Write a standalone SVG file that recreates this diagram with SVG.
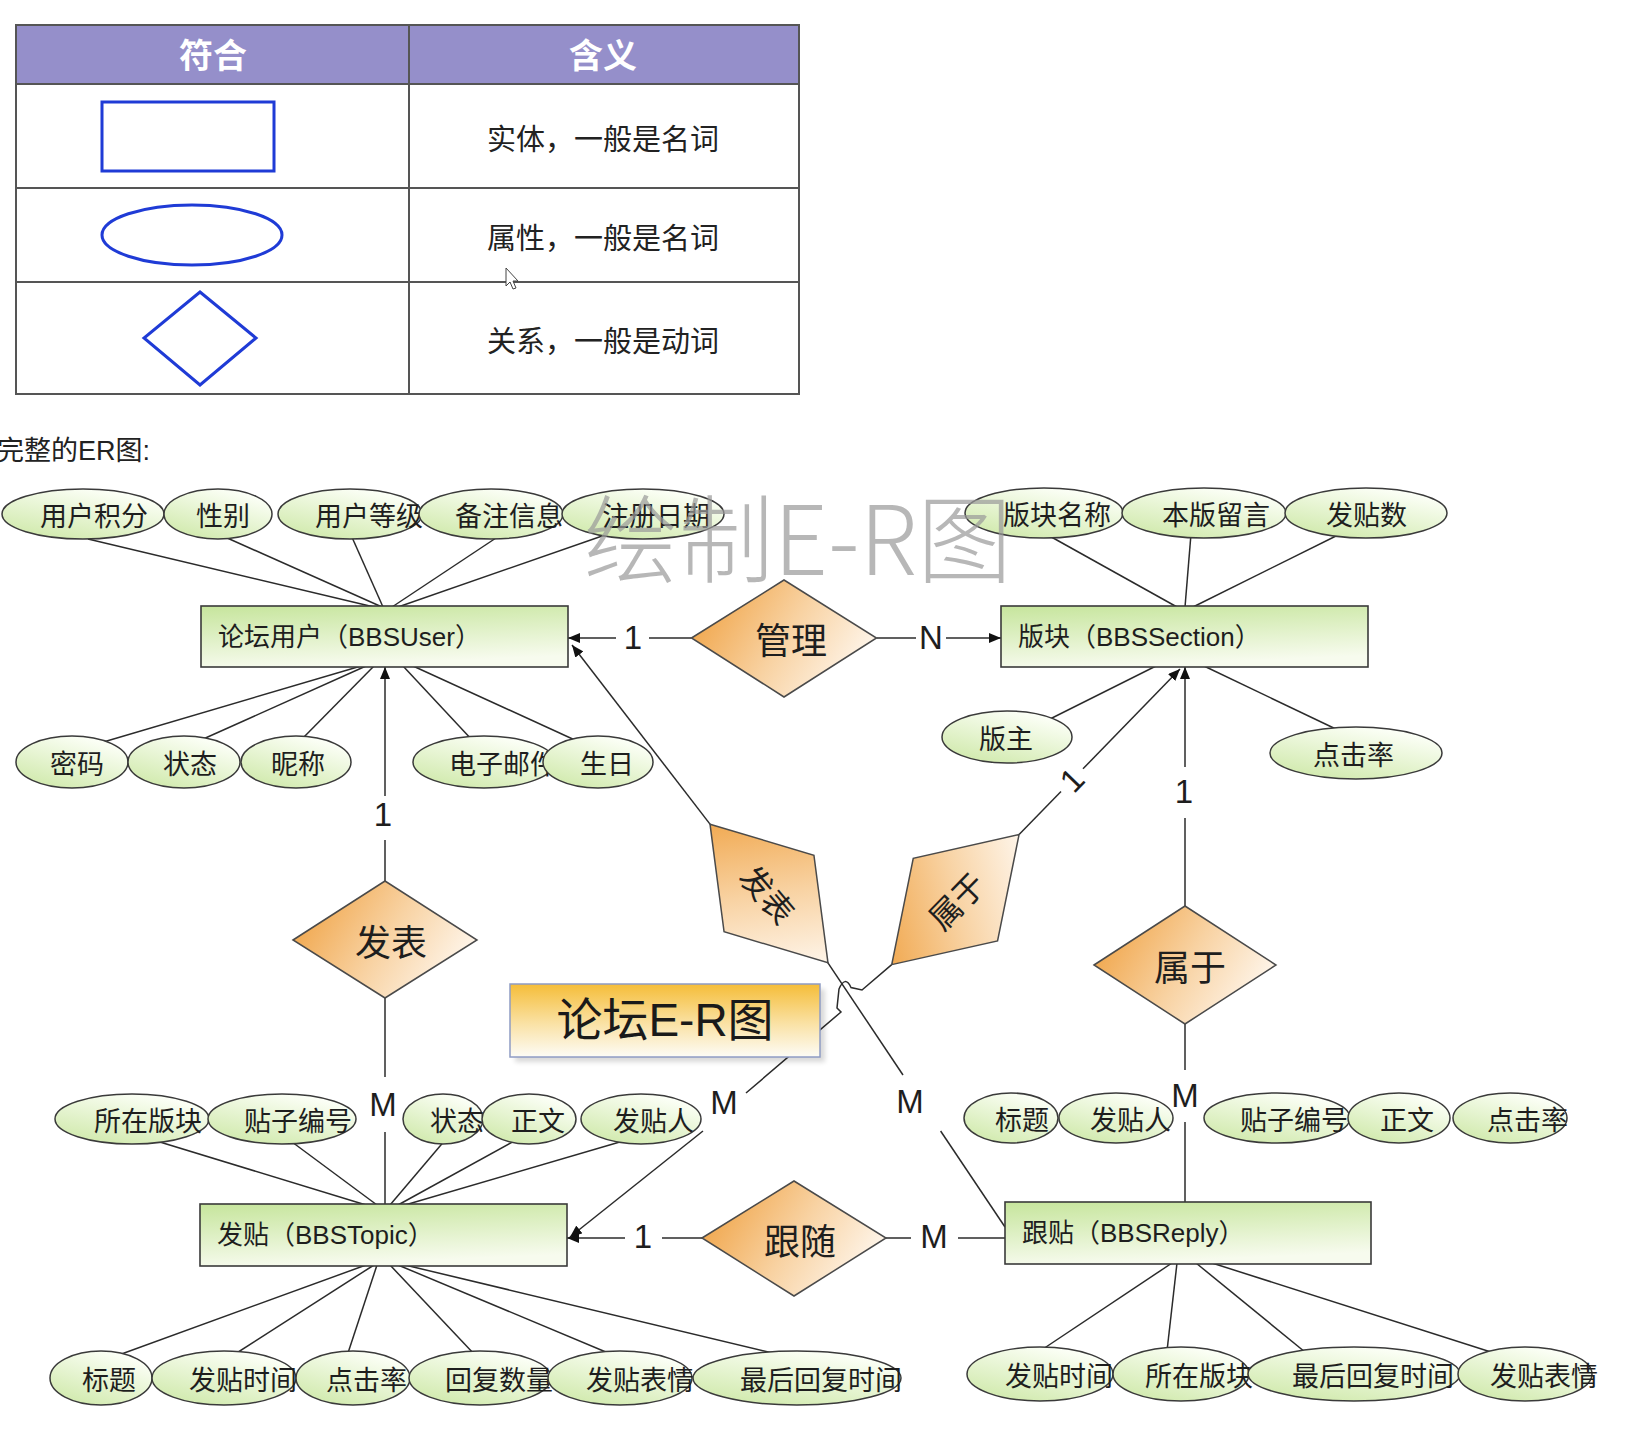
<svg xmlns="http://www.w3.org/2000/svg" width="1650" height="1430" viewBox="0 0 1650 1430">
<defs>
  <linearGradient id="gEnt" x1="0" y1="0" x2="0.25" y2="1">
    <stop offset="0" stop-color="#c6e59c"/>
    <stop offset="1" stop-color="#f7fbee"/>
  </linearGradient>
  <linearGradient id="gEll" x1="0" y1="1" x2="0.6" y2="0">
    <stop offset="0" stop-color="#cbe7a3"/>
    <stop offset="1" stop-color="#fcfff7"/>
  </linearGradient>
  <linearGradient id="gDia" x1="0" y1="0.3" x2="1" y2="0.7">
    <stop offset="0" stop-color="#f0a447"/>
    <stop offset="0.5" stop-color="#f8d2a2"/>
    <stop offset="1" stop-color="#fffaf4"/>
  </linearGradient>
  <linearGradient id="gTitle" x1="0" y1="0" x2="0" y2="1">
    <stop offset="0" stop-color="#f5bd38"/>
    <stop offset="0.55" stop-color="#fae2a6"/>
    <stop offset="1" stop-color="#fdfcf6"/>
  </linearGradient>
  <filter id="blur" x="-10%" y="-10%" width="120%" height="130%">
    <feGaussianBlur stdDeviation="2.5"/>
  </filter>
  <marker id="ah" viewBox="0 0 12 10" refX="12" refY="5" markerWidth="12" markerHeight="10" markerUnits="userSpaceOnUse" orient="auto">
    <path d="M0,0 L12,5 L0,10 Z" fill="#111"/>
  </marker>
</defs>
<style>
  .ln{stroke:#2b2b2b;stroke-width:1.5;fill:none}
  .arr{marker-end:url(#ah)}
  .ell{fill:url(#gEll);stroke:#3a3a3a;stroke-width:1.5}
  .ent{fill:url(#gEnt);stroke:#3a3a3a;stroke-width:1.6}
  .dia{fill:url(#gDia);stroke:#4a4a4a;stroke-width:1.5}
  .t{font-family:"Noto Sans CJK SC",sans-serif;font-size:27px;fill:#1e1e1e;dominant-baseline:central}
  .et{font-family:"Liberation Sans","Noto Sans CJK SC",sans-serif;font-size:26px;fill:#1e1e1e;dominant-baseline:central}
  .rt{font-family:"Noto Sans CJK SC",sans-serif;font-size:36px;fill:#1e1e1e;text-anchor:middle;dominant-baseline:central}
  .lb{font-family:"Liberation Sans",sans-serif;font-size:33px;fill:#1e1e1e;text-anchor:middle;dominant-baseline:central}
  .tb{stroke:#555;stroke-width:2;fill:none}
  .sym{stroke:#1f3bd6;stroke-width:3;fill:none}
  .tt{font-family:"Noto Sans CJK SC",sans-serif;font-size:29px;fill:#222;text-anchor:middle;dominant-baseline:central}
  .th{font-family:"Noto Sans CJK SC",sans-serif;font-size:34px;font-weight:bold;fill:#ffffff;text-anchor:middle;dominant-baseline:central}
</style>
<rect x="0" y="0" width="1650" height="1430" fill="#ffffff"/>

<g id="legend">
  <rect x="16" y="25" width="783" height="59" fill="#958fca"/>
  <rect class="tb" x="16" y="25" width="783" height="369"/>
  <line class="tb" x1="16" y1="84" x2="799" y2="84"/>
  <line class="tb" x1="16" y1="188" x2="799" y2="188"/>
  <line class="tb" x1="16" y1="282" x2="799" y2="282"/>
  <line class="tb" x1="409" y1="25" x2="409" y2="394"/>
  <text class="th" x="213" y="53">符合</text>
  <text class="th" x="603" y="53">含义</text>
  <rect class="sym" x="102" y="102" width="172" height="69"/>
  <ellipse class="sym" cx="192" cy="235" rx="90" ry="30"/>
  <polygon class="sym" points="200,292 256,338 200,385 144,338"/>
  <text class="tt" x="603" y="137">实体，一般是名词</text>
  <text class="tt" x="603" y="236">属性，一般是名词</text>
  <text class="tt" x="603" y="339">关系，一般是动词</text>
  <polygon points="506,268 506,286 510,282 513,289 516,288 513,281 518,281" fill="#fff" stroke="#444" stroke-width="1"/>
</g>

<text x="-3" y="451" style="font-family:'Liberation Sans','Noto Sans CJK SC',sans-serif;font-size:27px;fill:#222;dominant-baseline:central">完整的ER图:</text>

<g id="connectors">
  <!-- 管理 -->
  <line class="ln" x1="691.5" y1="638" x2="649" y2="638"/>
  <line class="ln arr" x1="616" y1="638" x2="568" y2="638"/>
  <text class="lb" x="633" y="637">1</text>
  <line class="ln" x1="876.5" y1="638" x2="916" y2="638"/>
  <line class="ln arr" x1="946" y1="638" x2="1001" y2="638"/>
  <text class="lb" x="931" y="637">N</text>
  <!-- 发表 (left) -->
  <line class="ln" x1="385" y1="881" x2="385" y2="840"/>
  <line class="ln arr" x1="385" y1="796" x2="385" y2="667"/>
  <text class="lb" x="383" y="814">1</text>
  <line class="ln" x1="385" y1="998" x2="385" y2="1077"/>
  <text class="lb" x="383" y="1104">M</text>
  <line class="ln" x1="385" y1="1132" x2="385" y2="1205"/>
  <!-- 属于 (right) -->
  <line class="ln" x1="1185" y1="906" x2="1185" y2="818"/>
  <line class="ln arr" x1="1185" y1="767" x2="1185" y2="667"/>
  <text class="lb" x="1184" y="791">1</text>
  <line class="ln" x1="1185" y1="1024" x2="1185" y2="1070"/>
  <text class="lb" x="1185" y="1095">M</text>
  <line class="ln" x1="1185" y1="1122" x2="1185" y2="1203"/>
  <!-- 跟随 -->
  <line class="ln" x1="702" y1="1238" x2="662" y2="1238"/>
  <line class="ln arr" x1="625" y1="1238" x2="567" y2="1238"/>
  <text class="lb" x="643" y="1236">1</text>
  <line class="ln" x1="886" y1="1238" x2="911" y2="1238"/>
  <line class="ln" x1="958" y1="1238" x2="1006" y2="1238"/>
  <text class="lb" x="934" y="1236">M</text>
  <!-- 发表 (tilted): BBSUser 1 - BBSReply M -->
  <line class="ln arr" x1="710.4" y1="824.6" x2="572" y2="645"/>
  <line class="ln" x1="827.6" y1="962.4" x2="903" y2="1075"/>
  <text class="lb" x="910" y="1101">M</text>
  <line class="ln" x1="940.6" y1="1131" x2="1005" y2="1227"/>
  <!-- 属于 (tilted): BBSSection 1 - BBSTopic M -->
  <line class="ln" x1="1019.1" y1="834.6" x2="1061" y2="791.5"/>
  <line class="ln arr" x1="1083" y1="768.8" x2="1180" y2="669"/>
  <text class="lb" x="1072" y="780" transform="rotate(-45.6 1072 780)">1</text>
  <path class="ln" d="M891.7,964.6 L862,990 L851,987.5 Q845,975 839,989 L837,1008 L841,1012 L746,1093"/>
  <text class="lb" x="724" y="1102">M</text>
  <line class="ln arr" x1="703" y1="1131" x2="570" y2="1237"/>
  <!-- BBSUser attributes -->
  <line class="ln" x1="88" y1="539" x2="374" y2="607"/>
  <line class="ln" x1="225" y1="537" x2="382" y2="607"/>
  <line class="ln" x1="351" y1="535" x2="383" y2="607"/>
  <line class="ln" x1="499" y1="536" x2="392" y2="607"/>
  <line class="ln" x1="605" y1="535" x2="398" y2="607"/>
  <line class="ln" x1="100" y1="743" x2="361" y2="666"/>
  <line class="ln" x1="201" y1="740" x2="366" y2="666"/>
  <line class="ln" x1="301" y1="740" x2="374" y2="666"/>
  <line class="ln" x1="473" y1="741" x2="403" y2="666"/>
  <line class="ln" x1="577" y1="741" x2="413" y2="666"/>
  <!-- BBSSection attributes -->
  <line class="ln" x1="1046" y1="534" x2="1177" y2="607"/>
  <line class="ln" x1="1191" y1="534" x2="1185" y2="607"/>
  <line class="ln" x1="1340" y1="534" x2="1193" y2="607"/>
  <line class="ln" x1="1048" y1="720" x2="1156" y2="666"/>
  <line class="ln" x1="1340" y1="731" x2="1204" y2="666"/>
  <!-- BBSTopic attributes -->
  <line class="ln" x1="150" y1="1139" x2="366" y2="1205"/>
  <line class="ln" x1="288" y1="1139" x2="377" y2="1205"/>
  <line class="ln" x1="446" y1="1139" x2="390" y2="1205"/>
  <line class="ln" x1="518" y1="1139" x2="398" y2="1205"/>
  <line class="ln" x1="630" y1="1139" x2="405" y2="1205"/>
  <line class="ln" x1="116" y1="1356" x2="366" y2="1265"/>
  <line class="ln" x1="232" y1="1356" x2="374" y2="1265"/>
  <line class="ln" x1="347" y1="1356" x2="377" y2="1265"/>
  <line class="ln" x1="475" y1="1355" x2="390" y2="1265"/>
  <line class="ln" x1="613" y1="1355" x2="398" y2="1265"/>
  <line class="ln" x1="781" y1="1355" x2="405" y2="1265"/>
  <!-- BBSReply attributes -->
  <line class="ln" x1="1040" y1="1351" x2="1172" y2="1263"/>
  <line class="ln" x1="1167" y1="1351" x2="1177" y2="1263"/>
  <line class="ln" x1="1305" y1="1352" x2="1196" y2="1263"/>
  <line class="ln" x1="1494" y1="1353" x2="1212" y2="1263"/>
</g>

<!-- Entities -->
<g id="e-user"><rect class="ent" x="201" y="606" width="367" height="61"/><text class="et" x="218" y="637">论坛用户（BBSUser）</text></g>
<g id="e-section"><rect class="ent" x="1001" y="606" width="367" height="61"/><text class="et" x="1018" y="637">版块（BBSSection）</text></g>
<g id="e-topic"><rect class="ent" x="200" y="1204" width="367" height="62"/><text class="et" x="217" y="1235">发贴（BBSTopic）</text></g>
<g id="e-reply"><rect class="ent" x="1005" y="1202" width="366" height="62"/><text class="et" x="1022" y="1233">跟贴（BBSReply）</text></g>

<!-- Relationships -->
<g id="r-manage"><polygon class="dia" points="691.5,638 784,580 876.5,638 784,697"/><text class="rt" x="791" y="638">管理</text></g>
<g id="r-publish"><polygon class="dia" points="293,940 385,881 477,940 385,998"/><text class="rt" x="391" y="940">发表</text></g>
<g id="r-belong"><polygon class="dia" points="1094,965 1185,906 1276,965 1185,1024"/><text class="rt" x="1190" y="965">属于</text></g>
<g id="r-follow"><polygon class="dia" points="702,1238 794,1181 886,1238 794,1296"/><text class="rt" x="800" y="1239">跟随</text></g>
<g id="r-publish2" transform="translate(769,893.5) rotate(49.6)"><polygon class="dia" points="-91,0 0,-59 91,0 0,59"/><text class="rt" x="0" y="0" style="font-size:32px">发表</text></g>
<g id="r-belong2" transform="translate(955.4,899.6) rotate(-45.6)"><polygon class="dia" points="-91,0 0,-59 91,0 0,59"/><text class="rt" x="0" y="0" style="font-size:32px">属于</text></g>

<!-- BBSUser attributes -->
<g id="a-u1"><ellipse class="ell" cx="83" cy="514" rx="81" ry="25"/><text class="t" x="40" y="514">用户积分</text></g>
<g id="a-u2"><ellipse class="ell" cx="218" cy="514" rx="54" ry="25"/><text class="t" x="196" y="514">性别</text></g>
<g id="a-u3"><ellipse class="ell" cx="350" cy="514" rx="72" ry="25"/><text class="t" x="315" y="514">用户等级</text></g>
<g id="a-u4"><ellipse class="ell" cx="491" cy="514" rx="72" ry="25"/><text class="t" x="455" y="514">备注信息</text></g>
<g id="a-u5"><ellipse class="ell" cx="643" cy="514" rx="81" ry="25"/><text class="t" x="602" y="514">注册日期</text></g>
<g id="a-u6"><ellipse class="ell" cx="72" cy="762" rx="56" ry="26"/><text class="t" x="50" y="762">密码</text></g>
<g id="a-u7"><ellipse class="ell" cx="184" cy="762" rx="56" ry="26"/><text class="t" x="163" y="762">状态</text></g>
<g id="a-u8"><ellipse class="ell" cx="296" cy="762" rx="55" ry="26"/><text class="t" x="271" y="762">昵称</text></g>
<g id="a-u9"><ellipse class="ell" cx="484" cy="762" rx="71" ry="26"/><text class="t" x="449" y="762">电子邮件</text></g>
<g id="a-u10"><ellipse class="ell" cx="598" cy="762" rx="55" ry="26"/><text class="t" x="580" y="762">生日</text></g>

<!-- BBSSection attributes -->
<g id="a-s1"><ellipse class="ell" cx="1044" cy="513" rx="79" ry="25"/><text class="t" x="1003" y="513">版块名称</text></g>
<g id="a-s2"><ellipse class="ell" cx="1204" cy="513" rx="82" ry="25"/><text class="t" x="1162" y="513">本版留言</text></g>
<g id="a-s3"><ellipse class="ell" cx="1366" cy="513" rx="81" ry="25"/><text class="t" x="1326" y="513">发贴数</text></g>
<g id="a-s4"><ellipse class="ell" cx="1007" cy="737" rx="65" ry="26"/><text class="t" x="979" y="737">版主</text></g>
<g id="a-s5"><ellipse class="ell" cx="1356" cy="753" rx="86" ry="26"/><text class="t" x="1313" y="753">点击率</text></g>

<!-- BBSTopic attributes -->
<g id="a-t1"><ellipse class="ell" cx="132" cy="1119" rx="77" ry="25"/><text class="t" x="94" y="1119">所在版块</text></g>
<g id="a-t2"><ellipse class="ell" cx="282" cy="1119" rx="74" ry="25"/><text class="t" x="244" y="1119">贴子编号</text></g>
<g id="a-t3"><ellipse class="ell" cx="443" cy="1119" rx="40" ry="25"/><text class="t" x="430" y="1119">状态</text></g>
<g id="a-t4"><ellipse class="ell" cx="529" cy="1119" rx="47" ry="25"/><text class="t" x="511" y="1119">正文</text></g>
<g id="a-t5"><ellipse class="ell" cx="641" cy="1119" rx="60" ry="25"/><text class="t" x="613" y="1119">发贴人</text></g>
<g id="a-t6"><ellipse class="ell" cx="101" cy="1378" rx="51" ry="27"/><text class="t" x="82" y="1378">标题</text></g>
<g id="a-t7"><ellipse class="ell" cx="224" cy="1378" rx="72" ry="27"/><text class="t" x="189" y="1378">发贴时间</text></g>
<g id="a-t8"><ellipse class="ell" cx="353" cy="1378" rx="57" ry="27"/><text class="t" x="326" y="1378">点击率</text></g>
<g id="a-t9"><ellipse class="ell" cx="480" cy="1378" rx="71" ry="27"/><text class="t" x="445" y="1378">回复数量</text></g>
<g id="a-t10"><ellipse class="ell" cx="620" cy="1378" rx="72" ry="27"/><text class="t" x="586" y="1378">发贴表情</text></g>
<g id="a-t11"><ellipse class="ell" cx="797" cy="1378" rx="104" ry="27"/><text class="t" x="740" y="1378">最后回复时间</text></g>

<!-- BBSReply attributes -->
<g id="a-r1"><ellipse class="ell" cx="1011" cy="1118" rx="47" ry="25"/><text class="t" x="995" y="1118">标题</text></g>
<g id="a-r2"><ellipse class="ell" cx="1116" cy="1118" rx="57" ry="25"/><text class="t" x="1090" y="1118">发贴人</text></g>
<g id="a-r3"><ellipse class="ell" cx="1277" cy="1118" rx="73" ry="25"/><text class="t" x="1240" y="1118">贴子编号</text></g>
<g id="a-r4"><ellipse class="ell" cx="1399" cy="1118" rx="51" ry="25"/><text class="t" x="1380" y="1118">正文</text></g>
<g id="a-r5"><ellipse class="ell" cx="1510" cy="1118" rx="57" ry="25"/><text class="t" x="1487" y="1118">点击率</text></g>
<g id="a-r6"><ellipse class="ell" cx="1040" cy="1374" rx="73" ry="27"/><text class="t" x="1005" y="1374">发贴时间</text></g>
<g id="a-r7"><ellipse class="ell" cx="1181" cy="1374" rx="68" ry="27"/><text class="t" x="1145" y="1374">所在版块</text></g>
<g id="a-r8"><ellipse class="ell" cx="1354" cy="1374" rx="106" ry="27"/><text class="t" x="1292" y="1374">最后回复时间</text></g>
<g id="a-r9"><ellipse class="ell" cx="1525" cy="1374" rx="67" ry="27"/><text class="t" x="1490" y="1374">发贴表情</text></g>

<!-- Title box -->
<g id="title">
  <rect x="515" y="989" width="310" height="73" fill="#000" opacity="0.15" filter="url(#blur)"/>
  <rect x="510" y="984" width="310" height="73" fill="url(#gTitle)" stroke="#8f9cc4" stroke-width="1.5"/>
  <text x="665" y="1020" style="font-family:'Liberation Sans','Noto Sans CJK SC',sans-serif;font-size:46px;fill:#1a1a1a;text-anchor:middle;dominant-baseline:central">论坛E-R图</text>
</g>

<!-- Watermark -->
<text x="584" y="533" textLength="428" lengthAdjust="spacingAndGlyphs" style="font-family:'Noto Sans CJK SC',sans-serif;font-size:96px;font-weight:300;fill:#9a9a9a;opacity:0.7;dominant-baseline:central">绘制E-R图</text>
</svg>
